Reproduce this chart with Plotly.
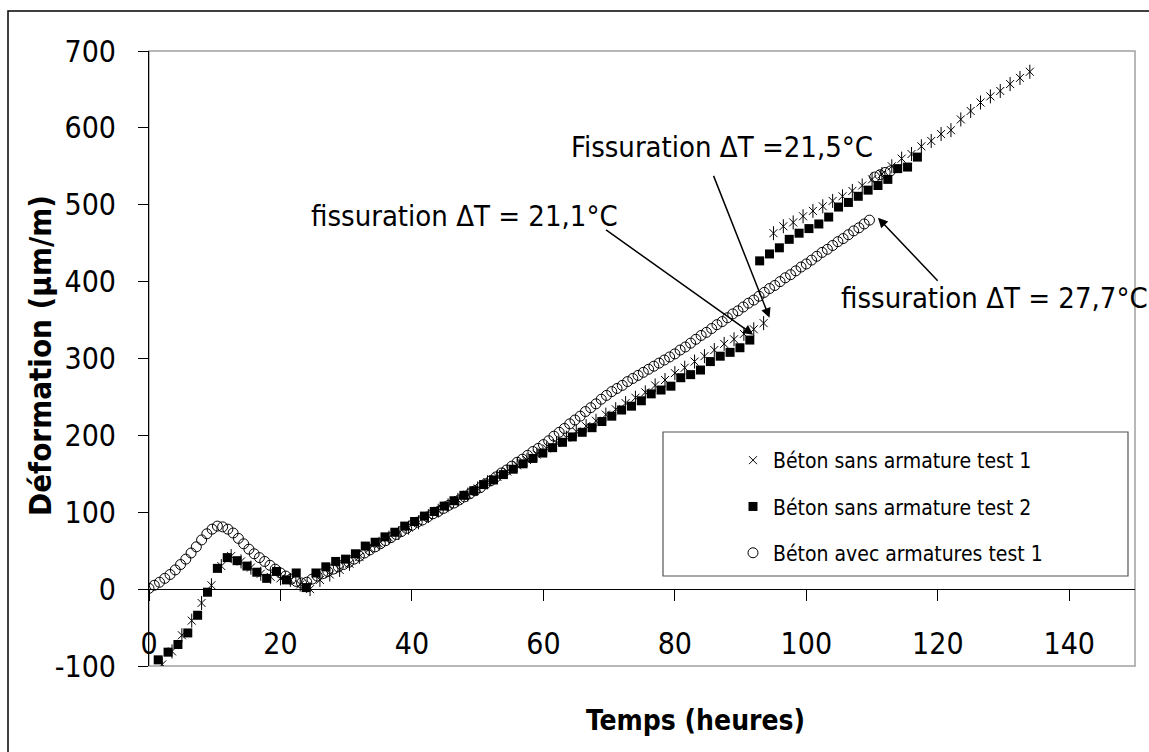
import plotly.graph_objects as go

# ---- data: deformation (µm/m) versus time (hours) ----
# Béton sans armature test 1 (star markers)
t_test1 = [2.0, 3.5, 5.0, 6.5, 8.0, 9.5, 11.0, 12.5, 14.0, 15.5, 17.0, 18.5, 20.0, 21.5, 23.0, 24.5,
           26.0, 27.5, 29.0, 30.5, 32.0, 33.5, 35.0, 36.5, 38.0, 39.5, 41.0, 42.5, 44.0, 45.5, 47.0,
           48.5, 50.0, 51.5, 53.0, 54.5, 56.0, 57.5, 59.0, 60.5, 62.0, 63.5, 65.0, 66.5, 68.0, 69.5,
           71.0, 72.5, 74.0, 75.5, 77.0, 78.5, 80.0, 81.5, 83.0, 84.5, 86.0, 87.5, 89.0, 90.5, 92.0,
           93.5,
           95.0, 96.5, 98.0, 99.5, 101.0, 102.5, 104.0, 105.5, 107.0, 108.5, 110.0, 111.5, 113.0,
           114.5, 116.0, 117.5, 119.0, 120.5, 122.0, 123.5, 125.0, 126.5, 128.0, 129.5, 131.0,
           132.5, 134.0]
def_test1 = [-98, -81, -60, -41, -18, 5, 30, 43, 36, 28, 20, 16, 14, 12, 6, 0,
             12, 19, 25, 33, 42, 52, 59, 67, 73, 80, 87, 95, 102, 109, 116,
             123, 131, 139, 146, 153, 161, 168, 175, 183, 190, 197, 205, 212, 219, 227,
             234, 242, 249, 256, 265, 272, 281, 288, 296, 303, 311, 319, 325, 332, 338,
             346,
             463, 472, 477, 485, 492, 498, 505, 511, 518, 525, 533, 540, 550,
             560, 566, 576, 583, 592, 597, 611, 622, 633, 641, 648, 657,
             665, 673]

# Béton sans armature test 2 (filled squares)
t_test2 = [1.4, 2.9, 4.4, 5.9, 7.4, 8.9, 10.4, 11.9, 13.4, 14.9, 16.4, 17.9, 19.4, 20.9, 22.4,
           23.9, 25.4, 26.9, 28.4, 29.9, 31.4, 32.9, 34.4, 35.9, 37.4, 38.9, 40.4, 41.9, 43.4,
           44.9, 46.4, 47.9, 49.4, 50.9, 52.4, 53.9, 55.4, 56.9, 58.4, 59.9, 61.4, 62.9, 64.4,
           65.9, 67.4, 68.9, 70.4, 71.9, 73.4, 74.9, 76.4, 77.9, 79.4, 80.9, 82.4, 83.9, 85.4,
           86.9, 88.4, 89.9, 91.4,
           92.9, 94.4, 95.9, 97.4, 98.9, 100.4, 101.9, 103.4, 104.9, 106.4, 107.9, 109.4, 110.9,
           112.4, 113.9, 115.4, 116.9]
def_test2 = [-92, -82, -72, -57, -34, -4, 27, 41, 37, 30, 22, 14, 23, 12, 21,
             2, 21, 29, 36, 39, 46, 56, 61, 68, 74, 82, 88, 95, 101,
             108, 115, 122, 128, 136, 142, 149, 156, 163, 170, 177, 184, 191, 198,
             204, 210, 218, 225, 233, 238, 245, 254, 259, 264, 275, 279, 285, 296,
             303, 308, 314, 324,
             427, 436, 444, 455, 463, 469, 475, 484, 497, 503, 511, 519, 525,
             533, 547, 549, 562]

# Béton avec armatures test 1 (open circles)
t_arm = [0.0, 0.8, 1.6, 2.4, 3.2, 4.0, 4.8, 5.6, 6.4, 7.2, 8.0, 8.8, 9.6, 10.4,
         11.2, 12.0, 12.8, 13.6, 14.4, 15.2, 16.0, 16.8, 17.6, 18.4, 19.2, 20.0, 20.8, 21.6,
         22.4, 23.2, 24.0, 24.8, 25.6, 26.4, 27.2, 28.0, 28.8, 29.6, 30.4, 31.2, 32.0, 32.8,
         33.6, 34.4, 35.2, 36.0, 36.8, 37.6, 38.4, 39.2, 40.0, 40.8, 41.6, 42.4, 43.2, 44.0,
         44.8, 45.6, 46.4, 47.2, 48.0, 48.8, 49.6, 50.4, 51.2, 52.0, 52.8, 53.6, 54.4, 55.2,
         56.0, 56.8, 57.6, 58.4, 59.2, 60.0, 60.8, 61.6, 62.4, 63.2, 64.0, 64.8, 65.6, 66.4,
         67.2, 68.0, 68.8, 69.6, 70.4, 71.2, 72.0, 72.8, 73.6, 74.4, 75.2, 76.0, 76.8, 77.6,
         78.4, 79.2, 80.0, 80.8, 81.6, 82.4, 83.2, 84.0, 84.8, 85.6, 86.4, 87.2, 88.0, 88.8,
         89.6, 90.4, 91.2, 92.0, 92.8, 93.6, 94.4, 95.2, 96.0, 96.8, 97.6, 98.4, 99.2, 100.0,
         100.8, 101.6, 102.4, 103.2, 104.0, 104.8, 105.6, 106.4, 107.2, 108.0, 108.8, 109.6,
         110.4, 111.2, 112.0, 112.8]
def_arm = [1, 5, 9, 14, 19, 25, 32, 39, 47, 55, 64, 72, 78, 82,
           81, 78, 73, 66, 59, 52, 46, 41, 36, 31, 26, 21, 17, 13,
           10, 8, 9, 13, 17, 20, 23, 26, 29, 32, 35, 39, 43, 47,
           51, 55, 59, 63, 67, 71, 75, 79, 83, 87, 90, 94, 98, 101,
           105, 109, 112, 116, 120, 124, 128, 132, 137, 141, 146, 151, 155, 160,
           165, 169, 174, 179, 183, 188, 193, 199, 204, 209, 215, 220, 225, 231,
           236, 241, 247, 252, 257, 261, 265, 270, 274, 278, 282, 286, 290, 294,
           298, 302, 306, 311, 315, 320, 325, 330, 334, 339, 344, 348, 353, 358,
           362, 367, 372, 376, 381, 386, 391, 395, 400, 405, 409, 414, 419, 423,
           428, 433, 438, 442, 447, 452, 456, 461, 466, 470, 475, 480,
           536, 539, 542, 544]

series_names = ["Béton sans armature test 1", "Béton sans armature test 2",
                "Béton avec armatures test 1"]

x_ticks = [0, 20, 40, 60, 80, 100, 120, 140]
y_ticks = [-100, 0, 100, 200, 300, 400, 500, 600, 700]
y_tick_text = ["-100", "0", "100", "200", "300", "400", "500", "600", "700"]

# ---- figure geometry (pixels) ----
W, H = 1149, 752
M_L, M_R, M_T, M_B = 149, 14, 51, 86
PW, PH = W - M_L - M_R, H - M_T - M_B


def px_x(p):
    return (p - M_L) / PW


def px_y(p):
    return (H - M_B - p) / PH


FONT = "DejaVu Sans Condensed, Open Sans, sans-serif"
BLACK = "#000000"

fig = go.Figure()

# circles
fig.add_trace(go.Scatter(
    x=t_arm, y=def_arm, mode="markers", name=series_names[2],
    legendrank=3, legendgroup="c",
    marker=dict(symbol="circle-open", size=10, color=BLACK, line=dict(width=1, color=BLACK)),
))
# stars: an "x" with a vertical bar through it
fig.add_trace(go.Scatter(
    x=t_test1, y=def_test1, mode="markers", name=series_names[0],
    legendrank=1, legendgroup="a",
    marker=dict(symbol="x-thin-open", size=8, color=BLACK, line=dict(width=1, color=BLACK)),
))
fig.add_trace(go.Scatter(
    x=t_test1, y=def_test1, mode="markers", showlegend=False, hoverinfo="skip",
    legendgroup="a",
    marker=dict(symbol="line-ns-open", size=10, color=BLACK, line=dict(width=1, color=BLACK)),
))
# squares
fig.add_trace(go.Scatter(
    x=t_test2, y=def_test2, mode="markers", name=series_names[1],
    legendrank=2, legendgroup="b",
    marker=dict(symbol="square", size=9, color=BLACK, line=dict(width=0)),
))

# crack annotations with arrows
arrow = dict(showarrow=True, arrowhead=2, arrowsize=1.3, arrowwidth=1.5, arrowcolor=BLACK,
             axref="x", ayref="y", xref="x", yref="y", text="")
fig.add_annotation(x=91.9, y=331, ax=69.3, ay=468.7, **arrow)
fig.add_annotation(x=94.4, y=353, ax=85.8, ay=539.5, **arrow)
fig.add_annotation(x=110.9, y=483, ax=120.2, ay=399.2, **arrow)

lbl = dict(showarrow=False, xref="x", yref="y", yanchor="middle",
           font=dict(family=FONT, size=29, color=BLACK))
fig.add_annotation(x=71.6, y=486, text="fissuration ΔT = 21,1°C", xanchor="right", **lbl)
fig.add_annotation(x=110.4, y=574.6, text="Fissuration ΔT =21,5°C", xanchor="right", **lbl)
fig.add_annotation(x=105.0, y=379.3, text="fissuration ΔT = 27,7°C", xanchor="left", **lbl)

# axis titles
fig.add_annotation(x=px_x(40), y=px_y(356), xref="paper", yref="paper", showarrow=False,
                   xanchor="center", yanchor="middle",
                   text="<b>Déformation (µm/m)</b>", textangle=-90,
                   font=dict(family=FONT, size=31, color=BLACK))
fig.add_annotation(x=px_x(695), y=px_y(720), xref="paper", yref="paper", showarrow=False,
                   xanchor="center", yanchor="middle",
                   text="<b>Temps (heures)</b>",
                   font=dict(family=FONT, size=28, color=BLACK))

# frames: plot area (grey), legend box, outer chart border
fig.add_shape(type="rect", xref="paper", yref="paper", x0=0, y0=0, x1=1, y1=1,
              line=dict(color="#a0a0a0", width=1.5), layer="below")
fig.add_shape(type="rect", xref="paper", yref="paper",
              x0=px_x(663), y0=px_y(576), x1=px_x(1128), y1=px_y(432),
              line=dict(color="#555555", width=1.2), fillcolor="white", layer="below")
fig.add_shape(type="rect", xref="paper", yref="paper",
              x0=px_x(8), y0=px_y(770), x1=px_x(1170), y1=px_y(11),
              line=dict(color=BLACK, width=1.5))

fig.update_layout(
    width=W, height=H,
    margin=dict(l=M_L, r=M_R, t=M_T, b=M_B),
    paper_bgcolor="white", plot_bgcolor="white",
    font=dict(family=FONT, size=29, color=BLACK),
    legend=dict(x=px_x(733), y=px_y(440), xanchor="left", yanchor="top",
                bgcolor="rgba(0,0,0,0)", borderwidth=0,
                font=dict(family=FONT, size=21, color=BLACK),
                traceorder="grouped", tracegroupgap=16),
    xaxis=dict(range=[0, 150], tickvals=x_ticks, showgrid=False, zeroline=False,
               showline=True, linecolor=BLACK, linewidth=1,
               ticks="outside", ticklen=11, tickcolor=BLACK, tickwidth=1,
               anchor="free", position=0.125, ticklabelstandoff=17,
               tickfont=dict(family=FONT, size=30, color=BLACK)),
    yaxis=dict(range=[-100, 700], tickvals=y_ticks, ticktext=y_tick_text,
               showgrid=False, zeroline=False,
               showline=True, linecolor=BLACK, linewidth=1,
               ticks="outside", ticklen=10, tickcolor=BLACK, tickwidth=1,
               ticklabelstandoff=16,
               tickfont=dict(family=FONT, size=30, color=BLACK)),
)

fig.write_html("out.html")
